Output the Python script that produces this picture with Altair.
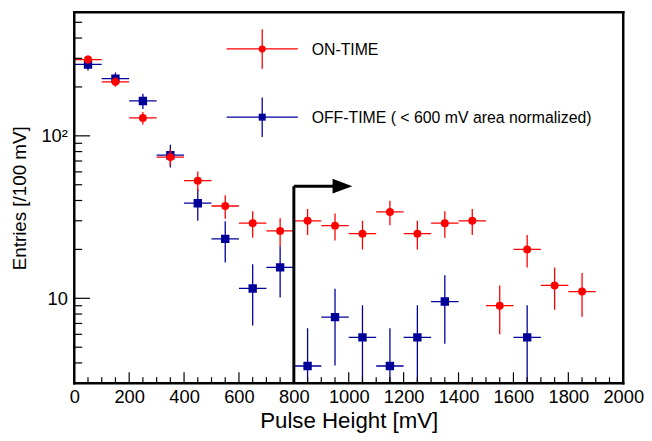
import altair as alt
import pandas as pd

# ---- data ----
bin_centers = [50, 150, 250, 350, 450, 550, 650, 750, 850, 950,
               1050, 1150, 1250, 1350, 1450, 1550, 1650, 1750, 1850]
on_vals = [295, 215, 129, 74, 53, 37, 29, 26, 30, 28,
           25, 34, 25, 29, 30, 9, 20, 12, 11]
on_errs = [17.2, 14.7, 11.4, 8.6, 7.3, 6.1, 5.4, 5.1, 5.5, 5.3,
           5.0, 5.8, 5.0, 5.4, 5.5, 3.0, 4.5, 3.5, 3.3]

off_centers = [50, 150, 250, 350, 450, 550, 650, 750, 850, 950,
               1050, 1150, 1250, 1350, 1650]
off_vals = [275, 225, 164, 76, 38.5, 23.2, 11.5, 15.5, 3.83, 7.66,
            5.75, 3.83, 5.75, 9.55, 5.75]
off_errs = [22.9, 20.7, 17.6, 12.1, 8.5, 6.6, 4.7, 5.4, 2.7, 3.8,
            3.3, 2.7, 3.3, 4.3, 3.3]
bin_half = 50

x_major = [0, 200, 400, 600, 800, 1000, 1200, 1400, 1600, 1800, 2000]
x_minor = [v for v in range(0, 2001, 50) if v % 200 != 0]
y_major = [10, 100]
y_minor = [4, 5, 6, 7, 8, 9, 20, 30, 40, 50, 60, 70, 80, 90, 200, 300, 400, 500]

cut_value = 800
arrow_level = 49
arrow_shaft_end = 950
arrow_head_x = 977

legend_labels = ["ON-TIME", "OFF-TIME ( < 600 mV area normalized)"]

RED = "#ff0000"
BLUE = "#000099"
FONT = "Liberation Sans"
W, H = 555, 375
Y_DOMAIN = [3, 576]

xs = alt.Scale(domain=[0, 2000], nice=False, zero=False)
ys = alt.Scale(type="log", domain=Y_DOMAIN, nice=False)


def frame(vals, errs, centers):
    return pd.DataFrame({
        "x": centers,
        "y": vals,
        "lo": [v - e for v, e in zip(vals, errs)],
        "hi": [v + e for v, e in zip(vals, errs)],
        "xlo": [c - bin_half for c in centers],
        "xhi": [c + bin_half for c in centers],
    })


on_df = frame(on_vals, on_errs, bin_centers)
off_df = frame(off_vals, off_errs, off_centers)

xaxis = alt.Axis(values=x_major, format="d", title="Pulse Height [mV]", ticks=False, domain=False,
                 grid=False, labelFontSize=18.5, labelFont=FONT, labelColor="black",
                 labelPadding=4, titleFontSize=22.5, titleFont=FONT, titleFontWeight="normal",
                 titleColor="black", titlePadding=4, labelFlush=False)
yaxis = alt.Axis(values=y_major, title="Entries [/100 mV]", ticks=False, domain=False,
                 grid=False, labelFontSize=18.5, labelFont=FONT, labelColor="black",
                 labelPadding=7, labelExpr="datum.value == 100 ? '10²' : '10'",
                 titleFontSize=19, titleFont=FONT, titleFontWeight="normal",
                 titleColor="black", titlePadding=12)


def series(df, color, shape, size):
    base = alt.Chart(df)
    v = base.mark_rule(color=color, strokeWidth=1.3, clip=True).encode(
        x=alt.X("x:Q", scale=xs, axis=xaxis), y=alt.Y("lo:Q", scale=ys, axis=yaxis), y2="hi:Q")
    h = base.mark_rule(color=color, strokeWidth=1.3, clip=True).encode(
        x=alt.X("xlo:Q", scale=xs), x2="xhi:Q", y=alt.Y("y:Q", scale=ys))
    p = base.mark_point(shape=shape, filled=True, size=size, color=color, opacity=1, clip=True).encode(
        x=alt.X("x:Q", scale=xs), y=alt.Y("y:Q", scale=ys))
    return [v, h, p]


# inward ticks
xmaj_t = alt.Chart(pd.DataFrame({"v": x_major})).mark_rule(color="black", strokeWidth=1.2).encode(
    x=alt.X("v:Q", scale=xs), y=alt.value(H), y2=alt.value(H - 11))
xmin_t = alt.Chart(pd.DataFrame({"v": x_minor})).mark_rule(color="black", strokeWidth=1.2).encode(
    x=alt.X("v:Q", scale=xs), y=alt.value(H), y2=alt.value(H - 6))
ymaj_t = alt.Chart(pd.DataFrame({"v": y_major})).mark_rule(color="black", strokeWidth=1.2).encode(
    y=alt.Y("v:Q", scale=ys), x=alt.value(0), x2=alt.value(16))
ymin_t = alt.Chart(pd.DataFrame({"v": y_minor})).mark_rule(color="black", strokeWidth=1.2).encode(
    y=alt.Y("v:Q", scale=ys), x=alt.value(0), x2=alt.value(8))

# cut arrow
arrow_df = pd.DataFrame({"x": [cut_value], "xe": [arrow_shaft_end], "xh": [arrow_head_x],
                         "y0": [Y_DOMAIN[0]], "y": [arrow_level]})
arrow_v = alt.Chart(arrow_df).mark_rule(color="black", strokeWidth=3).encode(
    x=alt.X("x:Q", scale=xs), y=alt.Y("y0:Q", scale=ys), y2="y:Q")
arrow_h = alt.Chart(arrow_df).mark_rule(color="black", strokeWidth=3).encode(
    x=alt.X("x:Q", scale=xs), x2="xe:Q", y=alt.Y("y:Q", scale=ys))
arrow_head = alt.Chart(arrow_df).mark_point(shape="M-1,-0.75L1,0L-1,0.75Z", filled=True,
                                            size=400, color="black", opacity=1).encode(
    x=alt.X("xh:Q", scale=xs), y=alt.Y("y:Q", scale=ys))

# legend
one = pd.DataFrame({"a": [0]})
leg = []
for label, color, shape, ly in [(legend_labels[0], RED, "circle", 37),
                                (legend_labels[1], BLUE, "square", 106)]:
    leg.append(alt.Chart(one).mark_rule(color=color, strokeWidth=1.3).encode(
        x=alt.value(154), x2=alt.value(226), y=alt.value(ly)))
    leg.append(alt.Chart(one).mark_rule(color=color, strokeWidth=1.3).encode(
        x=alt.value(190), y=alt.value(ly - 20), y2=alt.value(ly + 20)))
    leg.append(alt.Chart(one).mark_point(shape=shape, filled=True, size=50, color=color, opacity=1).encode(
        x=alt.value(190), y=alt.value(ly)))
    leg.append(alt.Chart(one).mark_text(align="left", baseline="middle", fontSize=16, font=FONT,
                                        color="black").encode(
        x=alt.value(240), y=alt.value(ly + 1), text=alt.value(label)))

# plot frame drawn as rules with the same width as the arrow lines
def edge(**enc):
    return alt.Chart(one).mark_rule(color="black", strokeWidth=2.5, opacity=1,
                                    strokeCap="square").encode(**enc)

edges = [edge(x=alt.value(0), x2=alt.value(W), y=alt.value(0)),
         edge(x=alt.value(0), x2=alt.value(W), y=alt.value(H)),
         edge(x=alt.value(0), y=alt.value(0), y2=alt.value(H)),
         edge(x=alt.value(W), y=alt.value(0), y2=alt.value(H))]

layers = (series(off_df, BLUE, "square", 72) + series(on_df, RED, "circle", 64)
          + [arrow_v, arrow_h, arrow_head, xmaj_t, xmin_t, ymaj_t, ymin_t] + leg + edges)

chart = alt.layer(*layers).properties(
    width=W, height=H,
    background="white",
    autosize=alt.AutoSizeParams(type="none"),
    padding={"left": 67, "top": 2, "right": 21, "bottom": 53},
).configure_view(stroke=None)

chart.save("out.html", embed_options={"renderer": "svg", "actions": False})
